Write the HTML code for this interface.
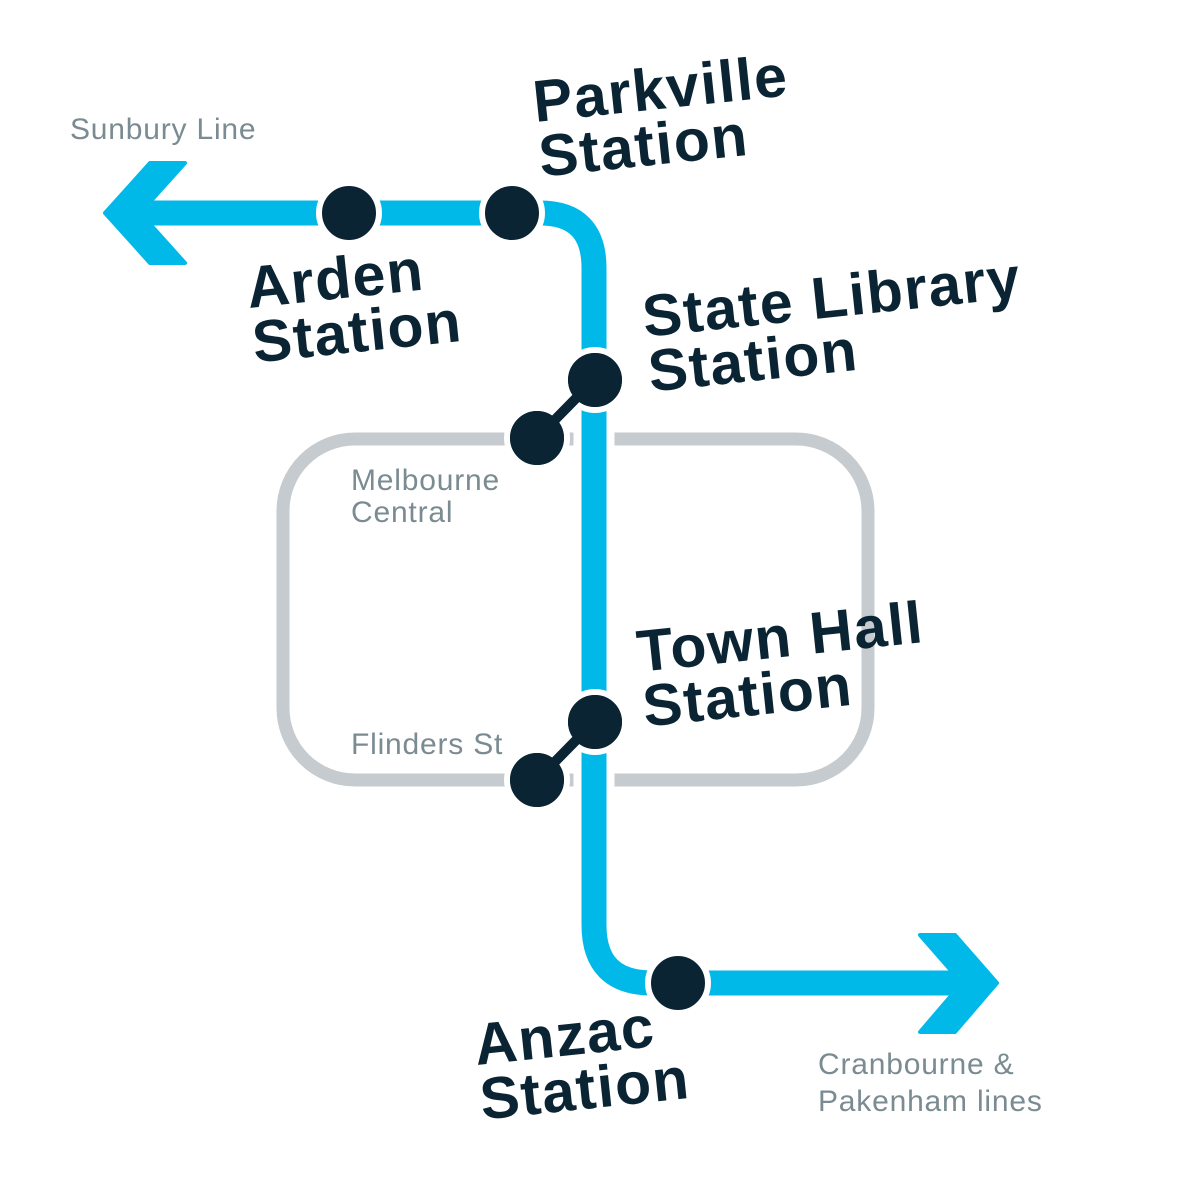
<!DOCTYPE html>
<html><head><meta charset="utf-8"><style>
html,body{margin:0;padding:0;background:#fff}
svg{display:block}
.b{font-family:"Liberation Sans",sans-serif;font-weight:bold;fill:#0b2433;font-size:59px;letter-spacing:1.5px}
.g{font-family:"Liberation Sans",sans-serif;fill:#7a8b92;font-size:30px;letter-spacing:0.8px}
</style></head><body>
<svg width="1188" height="1188" viewBox="0 0 1188 1188">
<rect x="283" y="439" width="585" height="341" rx="72" fill="none" stroke="#c5cbcf" stroke-width="13"/>
<path d="M140 213 H540 Q594 213 594 268 V925 Q594 983 652 983 H975" fill="none" stroke="#fff" stroke-width="41"/>
<path d="M140 213 H540 Q594 213 594 268 V925 Q594 983 652 983 H975" fill="none" stroke="#00b9e8" stroke-width="25"/>
<polygon points="105,213 150,163 185,163 140,213 185,263 150,263" fill="#00b9e8" stroke="#00b9e8" stroke-width="4" stroke-linejoin="round"/>
<polygon points="997,983 955,935 920,935 962,983 920,1032 955,1032" fill="#00b9e8" stroke="#00b9e8" stroke-width="4" stroke-linejoin="round"/>
<g stroke="#fff" stroke-width="12"><line x1="594" y1="380" x2="537" y2="438"/><line x1="594" y1="722" x2="537" y2="780"/></g>
<g fill="#0b2433" stroke="#fff" stroke-width="6">
<circle cx="349" cy="213" r="30"/><circle cx="512" cy="213" r="30"/>
<circle cx="595" cy="380" r="30"/><circle cx="537" cy="438" r="30"/>
<circle cx="595" cy="722" r="30"/><circle cx="537" cy="780" r="30"/>
<circle cx="678" cy="983" r="30"/></g>
<g stroke="#0b2433" stroke-width="10"><line x1="594" y1="380" x2="537" y2="438"/><line x1="594" y1="722" x2="537" y2="780"/></g>
<g fill="#0b2433"><circle cx="595" cy="380" r="27"/><circle cx="537" cy="438" r="27"/><circle cx="595" cy="722" r="27"/><circle cx="537" cy="780" r="27"/></g>
<text class="g" x="70" y="139">Sunbury Line</text>
<text class="g" x="351" y="490">Melbourne</text><text class="g" x="351" y="522">Central</text>
<text class="g" x="351" y="754">Flinders St</text>
<text class="g" x="818" y="1074">Cranbourne &amp;</text><text class="g" x="818" y="1111">Pakenham lines</text>
<g transform="rotate(-6 535 120)"><text class="b" x="535" y="122">Parkville</text><text class="b" x="535" y="177">Station</text></g>
<g transform="rotate(-6 248 300)"><text class="b" x="248" y="308">Arden</text><text class="b" x="248" y="363">Station</text></g>
<g transform="rotate(-6 643 320)"><text class="b" x="643" y="337">State Library</text><text class="b" x="643" y="392">Station</text></g>
<g transform="rotate(-6 638 660)"><text class="b" x="638" y="672">Town Hall</text><text class="b" x="638" y="727">Station</text></g>
<g transform="rotate(-6 476 1060)"><text class="b" x="476" y="1065">Anzac</text><text class="b" x="476" y="1120">Station</text></g>
</svg>
</body></html>
